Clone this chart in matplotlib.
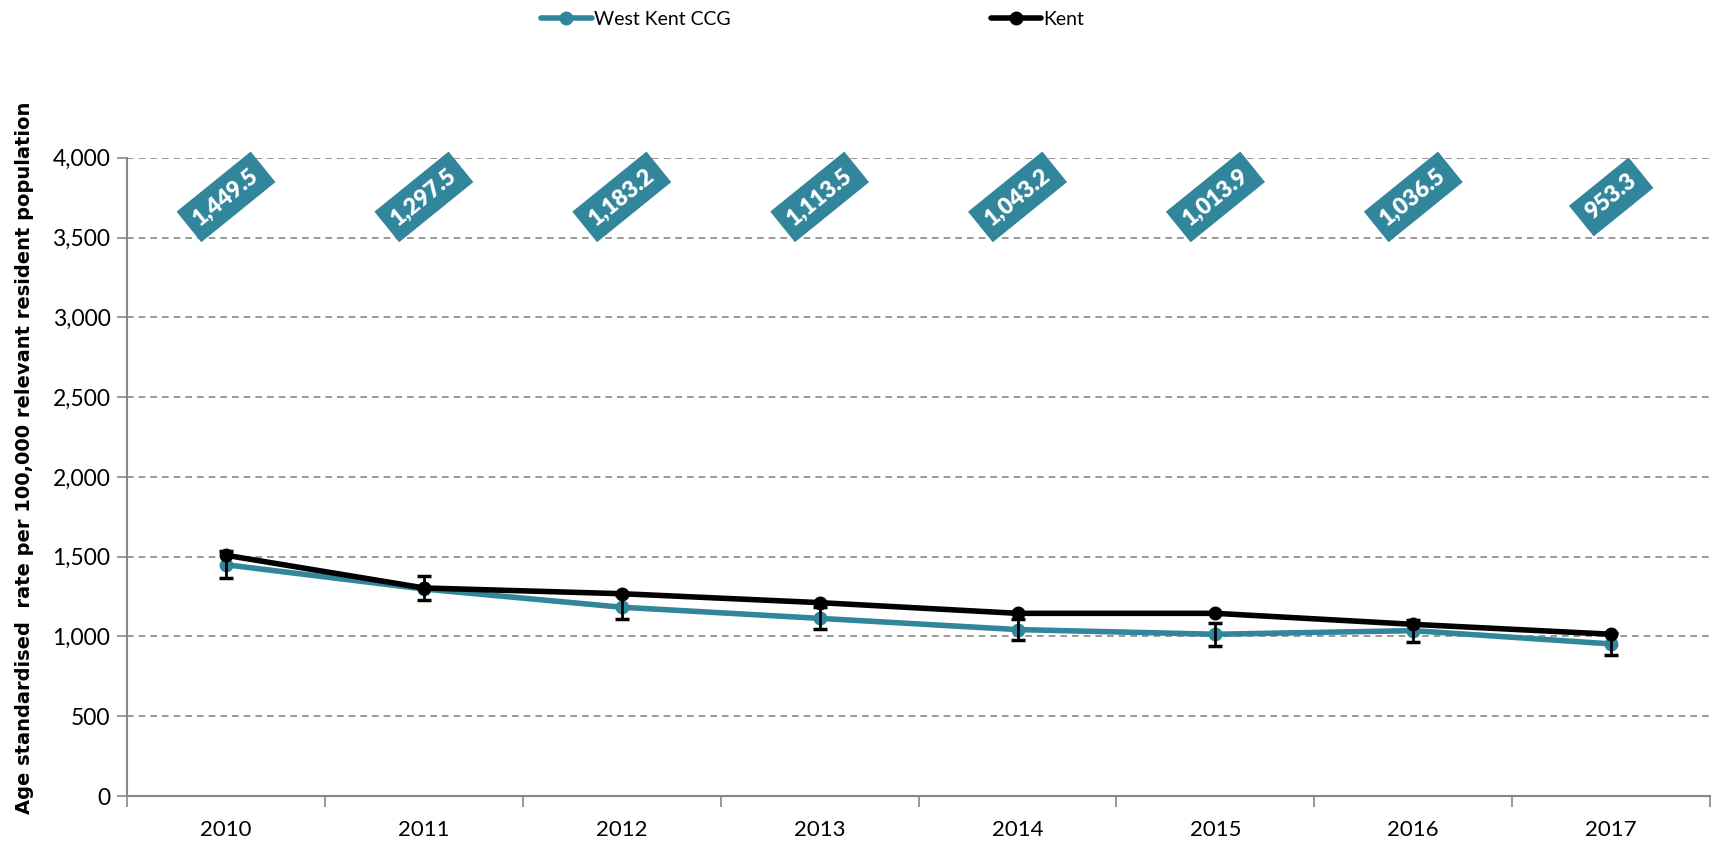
import numpy as np
import matplotlib.pyplot as plt
from matplotlib.ticker import FuncFormatter, FixedLocator

plt.rcParams['font.family'] = ['Lato', 'DejaVu Sans']

years = ['2010', '2011', '2012', '2013', '2014', '2015', '2016', '2017']
west_kent = [1449.5, 1297.5, 1183.2, 1113.5, 1043.2, 1013.9, 1036.5, 953.3]
west_kent_lo = [1364, 1227, 1107, 1045, 978, 943, 964, 885]
west_kent_hi = [1536, 1378, 1262, 1186, 1110, 1082, 1106, 1022]
kent = [1509, 1304, 1268, 1212, 1145, 1145, 1076, 1014]

teal = '#31869b'
grey = '#878787'

x = np.arange(len(years))
wk = np.array(west_kent)
err = [wk - np.array(west_kent_lo), np.array(west_kent_hi) - wk]

fig = plt.figure(figsize=(17.17, 8.42), dpi=100)
ax = fig.add_axes([0.074, 0.0546, 0.922, 0.758])

ax.plot(x, west_kent, color=teal, lw=4, marker='o', ms=9, label='West Kent CCG',
        solid_capstyle='round', zorder=3)
ax.errorbar(x, west_kent, yerr=err, fmt='none', ecolor='black', elinewidth=2,
            capsize=5, capthick=2.5, zorder=4)
ax.plot(x, kent, color='black', lw=4, marker='o', ms=9, label='Kent',
        solid_capstyle='round', zorder=5)

# value boxes along the top
for xi, v in zip(x, west_kent):
    ax.text(xi, 3755, f'{v:,.1f}', rotation=39, ha='center', va='center',
            rotation_mode='anchor', color='white', fontsize=16.5, fontweight='heavy',
            zorder=6, bbox=dict(boxstyle='square,pad=0.4', fc=teal, ec='none'))

ax.set_xlim(-0.5, 7.5)
ax.set_ylim(0, 4000)
ax.set_yticks(np.arange(0, 4001, 500))
ax.yaxis.set_major_formatter(FuncFormatter(lambda v, p: f'{v:,.0f}'))
ax.xaxis.set_major_locator(FixedLocator(np.arange(-0.5, 8, 1)))
ax.xaxis.set_minor_locator(FixedLocator(x))
ax.set_xticklabels([])
ax.set_xticklabels(years, minor=True)
ax.tick_params(axis='x', which='major', length=8, width=1.2, color=grey, direction='out')
ax.tick_params(axis='x', which='minor', length=0, pad=17, labelsize=16)
ax.tick_params(axis='y', length=7, width=1.2, color=grey, labelsize=16.5, pad=5)

ax.grid(axis='y', ls=(0, (4, 3)), color=grey, lw=1.2)
ax.set_axisbelow(True)
for s in ['top', 'right']:
    ax.spines[s].set_visible(False)
for s in ['left', 'bottom']:
    ax.spines[s].set_color(grey)
    ax.spines[s].set_linewidth(1.5)

ax.set_ylabel('Age standardised  rate per 100,000 relevant resident population',
              family='DejaVu Sans', fontsize=14, fontweight='bold')
ax.yaxis.set_label_coords(-0.059, 0.53)

fig.legend(loc='upper left', bbox_to_anchor=(0.305, 1.008), ncol=2, frameon=False,
           fontsize=14, handlelength=2.6, handletextpad=0.1, columnspacing=13.4)

fig.savefig('out.png', dpi=100)
